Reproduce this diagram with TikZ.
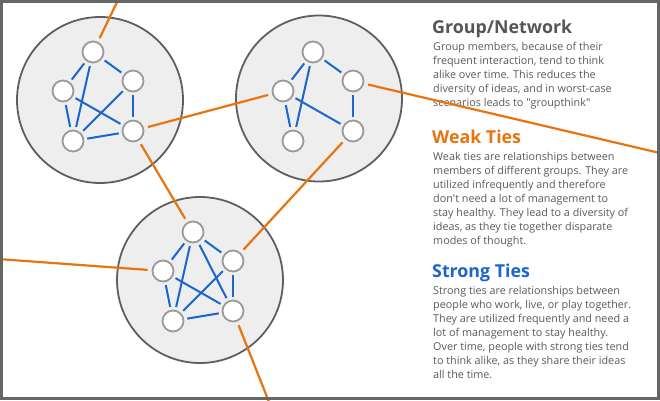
\documentclass[tikz,border=0pt]{standalone}
\usepackage{fontspec}
\setmainfont{Open Sans}
\definecolor{framegray}{HTML}{666666}
\definecolor{groupfill}{HTML}{EEEEEE}
\definecolor{groupline}{HTML}{5F5F5F}
\definecolor{persline}{HTML}{9A9A9A}
\definecolor{strongblue}{HTML}{1A66CC}
\definecolor{weakorange}{HTML}{E8740F}
\definecolor{bodygray}{HTML}{5A5A5A}
\definecolor{titlegray}{HTML}{555555}
\tikzset{
  group/.style={circle, draw=groupline, fill=groupfill, line width=1.8pt, minimum size=166pt, inner sep=0pt},
  person/.style={circle, draw=persline, fill=white, line width=1.8pt, minimum size=21pt, inner sep=0pt},
  strong/.style={draw=strongblue, line width=2pt, shorten <=3pt, shorten >=3pt},
  weak/.style={draw=weakorange, line width=2.2pt, shorten <=4pt},
  weakboth/.style={draw=weakorange, line width=2.2pt, shorten <=4pt, shorten >=4pt},
  title/.style={anchor=base west, inner sep=0pt, font=\fontsize{17.8}{20}\selectfont\bfseries},
  body/.style={anchor=base west, inner sep=0pt, align=left, text=bodygray, font=\fontsize{10.8}{14}\selectfont},
}
\begin{document}
\begin{tikzpicture}[x=1pt,y=-1pt]
\useasboundingbox (0,0) rectangle (660,400);
\fill[white] (0,0) rectangle (660,400);

% groups
\node[group] (g1) at (100,100) {};
\node[group] (g2) at (319,98.5) {};
\node[group] (g3) at (200,280) {};

% text (base anchor = baseline of the last line)
\node[title, text=titlegray] (t1) at (432,33) {Group/Network};
\node[body] (p1) at (433,106) {Group members, because of their\\frequent interaction, tend to think\\alike over time. This reduces the\\diversity of ideas, and in worst-case\\scenarios leads to \textquotedbl groupthink\textquotedbl};
\node[title, text=weakorange] (t2) at (432,143) {Weak Ties};
\node[body] (p2) at (433,244) {Weak ties are relationships between\\members of different groups. They are\\utilized infrequently and therefore\\don\textquotesingle t need a lot of management to\\stay healthy. They lead to a diversity of\\ideas, as they tie together disparate\\modes of thought.};
\node[title, text=strongblue] (t3) at (432,277) {Strong Ties};
\node[body] (p3) at (433,378) {Strong ties are relationships between\\people who work, live, or play together.\\They are utilized frequently and need a\\lot of management to stay healthy.\\Over time, people with strong ties tend\\to think alike, as they share their ideas\\all the time.};

% people coordinates
\foreach \g/\dx/\dy in {a/0/0, b/220/0, c/100/180}{
  \coordinate (\g t) at (93+\dx,52+\dy);
  \coordinate (\g r) at (133+\dx,81+\dy);
  \coordinate (\g l) at (63+\dx,91+\dy);
  \coordinate (\g bl) at (73+\dx,141+\dy);
  \coordinate (\g br) at (133+\dx,131+\dy);
}
\foreach \g in {a,b,c}{
  \foreach \p in {t,r,l,bl,br}{
    \node[person] (\g\p n) at (\g\p) {};
  }
}

% free ends of weak ties
\coordinate (e1) at (119,-2);
\coordinate (e2) at (662,153.5);
\coordinate (e3) at (-2,259);
\coordinate (e4) at (269,402);

% weak ties
\draw[weak] (atn) -- (e1);
\draw[weakboth] (abrn) -- (bln);
\draw[weakboth] (abrn) -- (ctn);
\draw[weak] (brn) -- (e2);
\draw[weakboth] (bbrn) -- (crn);
\draw[weak] (cln) -- (e3);
\draw[weak] (cbrn) -- (e4);

% strong ties
\draw[strong] (atn) -- (aln);
\draw[strong] (atn) -- (abln);
\draw[strong] (atn) -- (arn);
\draw[strong] (aln) -- (abln);
\draw[strong] (aln) -- (abrn);
\draw[strong] (arn) -- (abln);
\draw[strong] (arn) -- (abrn);
\draw[strong] (abln) -- (abrn);

\draw[strong] (btn) -- (bln);
\draw[strong] (btn) -- (bbln);
\draw[strong] (btn) -- (brn);
\draw[strong] (bln) -- (bbln);
\draw[strong] (bln) -- (bbrn);
\draw[strong] (brn) -- (bbrn);

\draw[strong] (ctn) -- (cln);
\draw[strong] (ctn) -- (cbln);
\draw[strong] (ctn) -- (crn);
\draw[strong] (ctn) -- (cbrn);
\draw[strong] (cln) -- (cbln);
\draw[strong] (cln) -- (cbrn);
\draw[strong] (crn) -- (cbln);
\draw[strong] (crn) -- (cbrn);
\draw[strong] (cbln) -- (cbrn);

% frame
\draw[framegray, line width=3pt] (1.5,1.5) rectangle (658.5,398.5);
\end{tikzpicture}
\end{document}
